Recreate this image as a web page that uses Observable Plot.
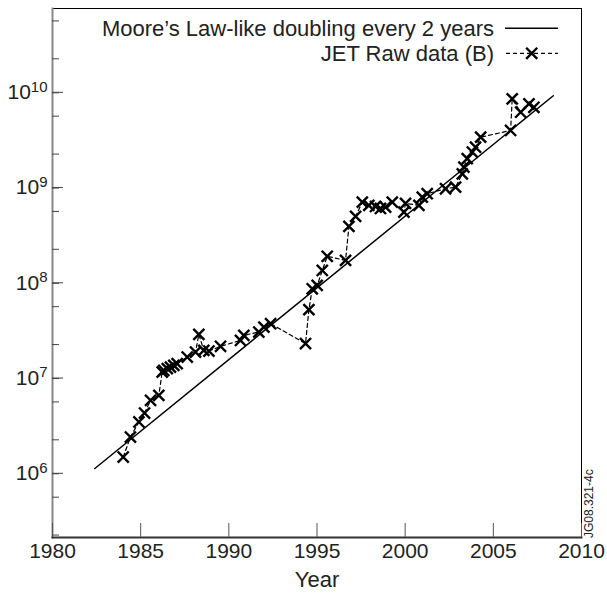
<!DOCTYPE html>
<html><head><meta charset="utf-8">
<script src="https://cdn.jsdelivr.net/npm/d3@7"></script>
<script src="https://cdn.jsdelivr.net/npm/@observablehq/plot@0.6"></script>
<style>body{margin:0;background:#fff}</style>
</head><body><div id="chart"></div>
<script>
const mooreYears = [1982.4, 2008.4];
const mooreValues = [1.0e6, 8.2e9];

const jetYears = [1984.01, 1984.42, 1984.90, 1985.22, 1985.56, 1986.03, 1986.22, 1986.31, 1986.51, 1986.69,
  1986.88, 1987.07, 1987.64, 1988.11, 1988.30, 1988.58, 1988.87, 1989.53, 1990.66, 1990.85,
  1991.70, 1991.99, 1992.37, 1994.35, 1994.54, 1994.73, 1995.01, 1995.30, 1995.58, 1996.62,
  1996.81, 1997.19, 1997.57, 1997.94, 1998.32, 1998.60, 1998.89, 1999.27, 1999.93, 2000.02,
  2000.78, 2000.97, 2001.25, 2002.29, 2002.86, 2003.24, 2003.33, 2003.52, 2003.81, 2003.99,
  2004.28, 2005.98, 2006.07, 2006.55, 2007.02, 2007.30];
const jetValues = [1.32e6, 2.14e6, 3.08e6, 3.82e6, 5.2e6, 5.86e6, 1.03e7, 1.07e7, 1.12e7, 1.16e7,
  1.21e7, 1.26e7, 1.48e7, 1.67e7, 2.56e7, 1.74e7, 1.71e7, 1.92e7, 2.21e7, 2.50e7,
  2.71e7, 3.05e7, 3.31e7, 2.05e7, 4.65e7, 7.7e7, 8.36e7, 1.20e8, 1.69e8, 1.53e8,
  3.48e8, 4.43e8, 6.26e8, 5.78e8, 5.64e8, 5.37e8, 5.55e8, 6.26e8, 4.91e8, 6.07e8,
  5.78e8, 7.06e8, 7.67e8, 8.65e8, 9.0e8, 1.24e9, 1.46e9, 1.79e9, 2.10e9, 2.36e9,
  3.01e9, 3.54e9, 7.6e9, 5.5e9, 6.74e9, 6.2e9];

const xTicks = [1980, 1985, 1990, 1995, 2000, 2005, 2010];
const yMajorTicks = [1e6, 1e7, 1e8, 1e9, 1e10];
const yMinorTicks = [2e5, 5e5, 8.8e5, 2e6, 5e6, 8.8e6, 2e7, 5e7, 8.8e7, 2e8, 5e8, 8.8e8, 2e9, 5e9, 8.8e9, 2e10, 5e10];
const legendLabels = ["Moore\u2019s Law-like doubling every 2 years", "JET Raw data (B)"];
const xLabel = "Year";
const stamp = "JG08.321-4c";

const mooreData = mooreYears.map((y, i) => ({year: y, value: mooreValues[i]}));
const jetData = jetYears.map((y, i) => ({year: y, value: jetValues[i]}));

const font = "'Liberation Sans', Arial, Helvetica, sans-serif";
const markR = 5.1;
const svg = Plot.plot({
  width: 607, height: 597,
  marginLeft: 52, marginRight: 26, marginTop: 8, marginBottom: 60,
  style: {fontFamily: font, fontSize: "20px", color: "#222", background: "#fff"},
  x: {domain: [1980, 2010], label: null},
  y: {type: "log", domain: [Math.pow(10, 5.2756), Math.pow(10, 10.8294)], label: null},
  marks: [
    Plot.frame({stroke: "#000", strokeWidth: 1}),
    Plot.frame({anchor: "left", stroke: "#888", strokeWidth: 2}),
    Plot.frame({anchor: "bottom", stroke: "#333", strokeWidth: 2}),
    Plot.axisX({ticks: xTicks, tickSize: -14, tickPadding: 20, tickFormat: d => String(d), fontSize: 21, stroke: "#555", label: null}),
    Plot.axisY({ticks: yMajorTicks, tickSize: -11, tickPadding: 16, dy: 4.8, fontSize: 21, stroke: "#444",
      tickFormat: d => "10^" + Math.round(Math.log10(d)), label: null}),
    Plot.axisY({ticks: yMinorTicks, tickSize: -7, tickFormat: () => "", stroke: "#444", label: null}),
    Plot.line(mooreData, {x: "year", y: "value", stroke: "#000", strokeWidth: 1.5}),
    Plot.line(jetData, {x: "year", y: "value", stroke: "#000", strokeWidth: 1.2, strokeDasharray: "4,3"}),
    Plot.dot(jetData, {x: "year", y: "value", symbol: "times", r: markR, stroke: "#000", strokeWidth: 2.4}),
    Plot.text([xLabel], {frameAnchor: "bottom", dy: 49, fontSize: 22, fill: "#222"})
  ]
});

const s = d3.select(svg);
s.selectAll('g[aria-label="y-axis tick label"] text').each(function() {
  const t = this.textContent;
  if (!t.includes("^")) return;
  const [base, exp] = t.split("^");
  const sel = d3.select(this);
  sel.text(null);
  sel.append("tspan").text(base);
  sel.append("tspan").attr("dy", -7.5).attr("font-size", 15).text(exp);
});

// legend
const lg = s.append("g").attr("font-family", font).attr("font-size", 22).attr("fill", "#222");
lg.append("text").attr("x", 494).attr("y", 35.5).attr("text-anchor", "end").text(legendLabels[0]);
lg.append("text").attr("x", 494).attr("y", 60.5).attr("text-anchor", "end").text(legendLabels[1]);
lg.append("line").attr("x1", 505).attr("x2", 558).attr("y1", 28.3).attr("y2", 28.3).attr("stroke", "#000").attr("stroke-width", 1.5);
lg.append("line").attr("x1", 506).attr("x2", 558).attr("y1", 53.3).attr("y2", 53.3).attr("stroke", "#000").attr("stroke-width", 1.2).attr("stroke-dasharray", "4,3");
lg.append("path").attr("d", d3.symbol(d3.symbolTimes, Math.PI * markR * markR)()).attr("transform", "translate(531.7,53.3)").attr("stroke", "#000").attr("stroke-width", 2.4).attr("fill", "none");

s.append("text").attr("transform", "translate(593,538) rotate(-90)").attr("text-anchor", "start")
  .attr("font-family", font).attr("font-size", 12).attr("fill", "#222").text(stamp);

document.getElementById("chart").appendChild(svg);
</script>
</body></html>
